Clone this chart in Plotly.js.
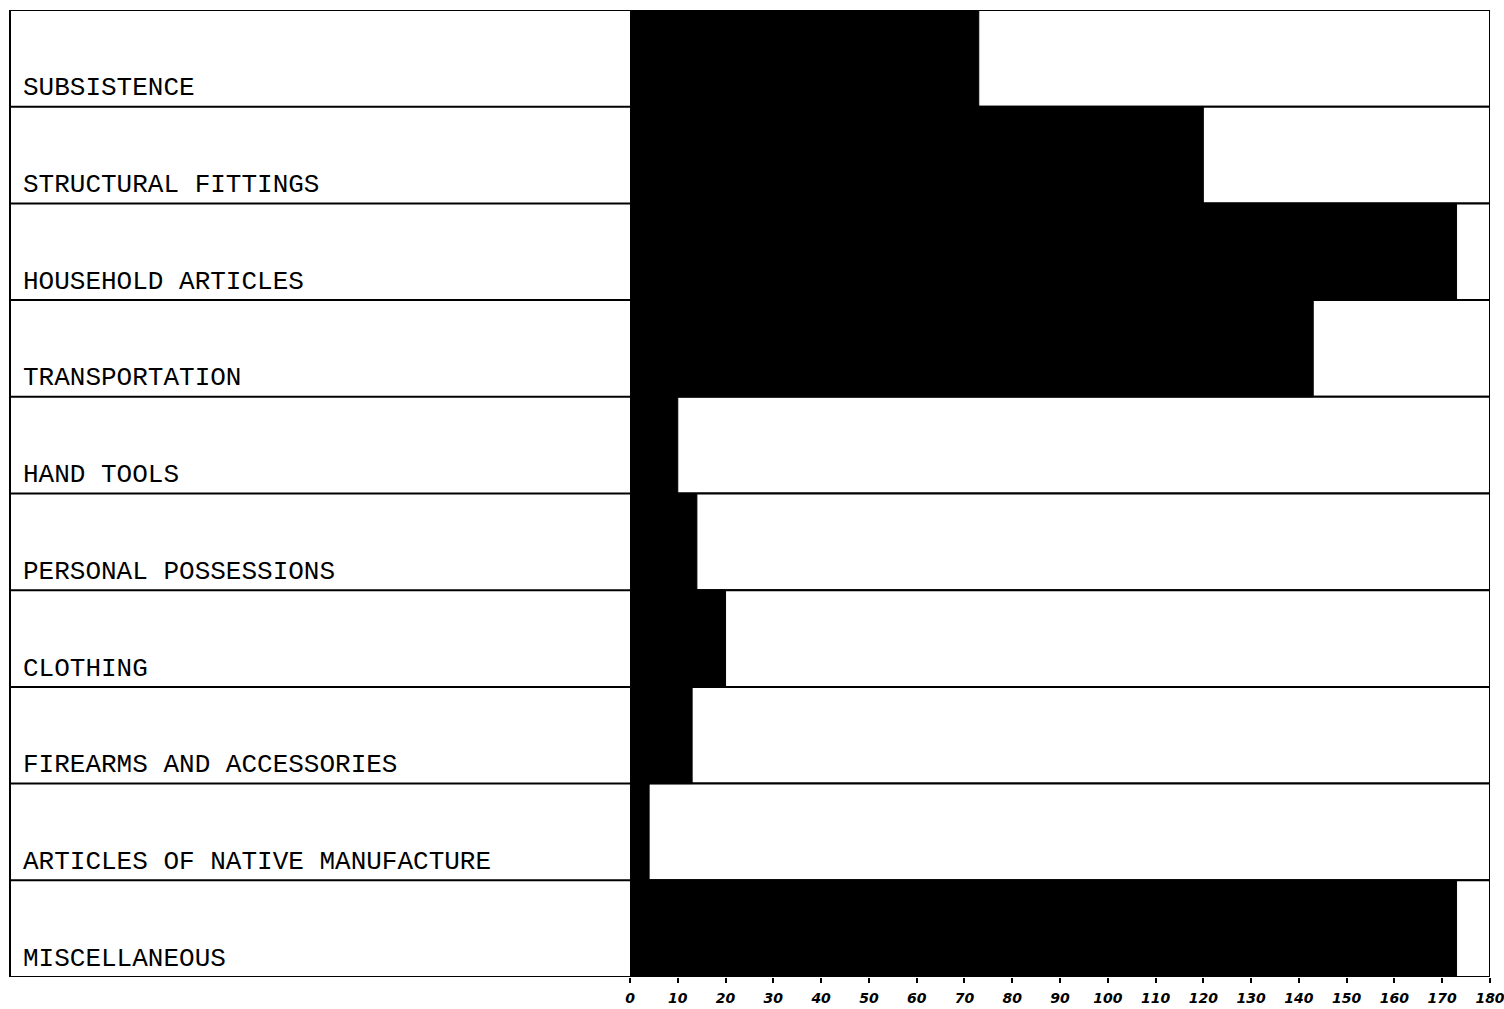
<!DOCTYPE html>
<html>
<head>
<meta charset="utf-8">
<script src="https://cdn.plot.ly/plotly-3.0.1.min.js"></script>
<style>
html,body{margin:0;padding:0;background:#fff;}
#chart{width:1504px;height:1009px;}
</style>
</head>
<body>
<div id="chart"></div>
<script>
// ---- data ----
const categories = [
  "SUBSISTENCE",
  "STRUCTURAL FITTINGS",
  "HOUSEHOLD ARTICLES",
  "TRANSPORTATION",
  "HAND TOOLS",
  "PERSONAL POSSESSIONS",
  "CLOTHING",
  "FIREARMS AND ACCESSORIES",
  "ARTICLES OF NATIVE MANUFACTURE",
  "MISCELLANEOUS"
];
const counts = [73, 120, 173, 143, 10, 14, 20, 13, 4, 173];
const scaleMax = [180, 180, 180, 180, 180, 180, 180, 180, 180, 180];
const tickVals = [0,10,20,30,40,50,60,70,80,90,100,110,120,130,140,150,160,170,180];
const tickText = ["0","10","20","30","40","50","60","70","80","90","100","110","120","130","140","150","160","170","180"];

// ---- layout helpers ----
const W = 1504, H = 1009;
const mL = 630, mR = 14, mT = 10, mB = 32;
const plotW = W - mL - mR;
const leftEdgePaper = (10 - mL) / plotW;
const labelXPaper = (21 - mL) / plotW;

const traces = [
  {
    type: "bar", orientation: "h",
    y: categories, x: scaleMax,
    marker: {color: "#ffffff", line: {color: "#000000", width: 2}},
    hoverinfo: "skip", showlegend: false
  },
  {
    type: "bar", orientation: "h",
    y: categories, x: counts,
    marker: {color: "#000000", line: {color: "#000000", width: 1}},
    showlegend: false
  }
];

const shapes = [];
shapes.push({type: "line", xref: "paper", yref: "y", x0: leftEdgePaper, x1: leftEdgePaper,
  y0: -0.5, y1: categories.length - 0.5, line: {color: "#000", width: 2}});
for (let i = 0; i <= categories.length; i++) {
  shapes.push({type: "line", xref: "paper", yref: "y", x0: leftEdgePaper, x1: 0,
    y0: i - 0.5, y1: i - 0.5, line: {color: "#000", width: 2}});
}

const annotations = categories.map(c => ({
  xref: "paper", yref: "y", x: labelXPaper, y: c,
  xanchor: "left", yanchor: "middle", yshift: -30,
  text: c, showarrow: false,
  font: {family: "Courier New, Courier, FreeMono, Nimbus Mono PS, serif", size: 26, color: "#000"}
}));

const layout = {
  width: W, height: H,
  margin: {l: mL, r: mR, t: mT, b: mB, pad: 0},
  paper_bgcolor: "#fff", plot_bgcolor: "#fff",
  barmode: "overlay", bargap: 0,
  xaxis: {
    range: [0, 180], tickvals: tickVals, ticktext: tickText,
    ticks: "outside", ticklen: 5, tickwidth: 2, tickcolor: "#000",
    ticklabelstandoff: 3, ticklabeloverflow: "allow",
    showgrid: false, zeroline: false, showline: false,
    tickfont: {family: "DejaVu Sans, sans-serif", size: 14, color: "#000", style: "italic", weight: "bold"},
    fixedrange: true
  },
  yaxis: {
    categoryorder: "array", categoryarray: categories,
    range: [categories.length - 0.5, -0.5],
    showticklabels: false, ticks: "", showgrid: false, zeroline: false, showline: false,
    fixedrange: true
  },
  shapes: shapes,
  annotations: annotations
};

Plotly.newPlot("chart", traces, layout, {displayModeBar: false, staticPlot: true});
</script>
</body>
</html>
